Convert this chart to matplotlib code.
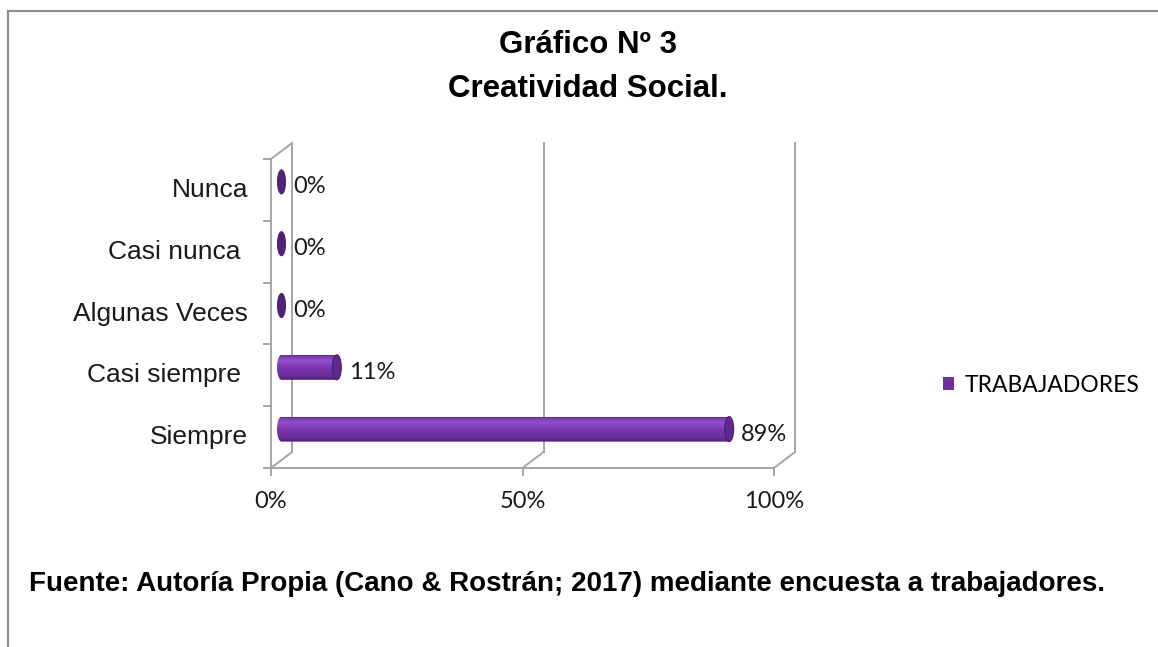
import numpy as np
import matplotlib
matplotlib.use('Agg')
import matplotlib.pyplot as plt
from matplotlib.patches import Ellipse, Polygon, Patch
from matplotlib.lines import Line2D
from matplotlib.colors import LinearSegmentedColormap

# datos del grafico
categorias = ['Siempre', 'Casi siempre ', 'Algunas Veces', 'Casi nunca ', 'Nunca']
trabajadores = [89, 11, 0, 0, 0]
etiquetas = ['89%', '11%', '0%', '0%', '0%']
xticks = [0, 50, 100]
xtick_labels = ['0%', '50%', '100%']
serie = 'TRABAJADORES'

titulo1 = 'Gráfico Nº 3'
titulo2 = 'Creatividad Social.'
fuente = 'Fuente: Autoría Propia (Cano & Rostrán; 2017) mediante encuesta a trabajadores.'

W, H = 1158, 647
fig = plt.figure(figsize=(W / 100, H / 100), dpi=100)

# plot area in pixels: front 0% at x=271, 100% at x=774, bottom at y=468, 61.8 px per category
px_x = 5.03
px_y = 61.8
x0_px, y0_px = 271, 468
left_px, right_px, top_px, bot_px = 258, 830, 130, 480
ax = fig.add_axes([left_px / W, 1 - bot_px / H, (right_px - left_px) / W, (bot_px - top_px) / H])
xlim = ((left_px - x0_px) / px_x, (right_px - x0_px) / px_x)
ylim = (-0.5 - (bot_px - y0_px) / px_y, -0.5 + (y0_px - top_px) / px_y)
ax.axis('off')

dx = 21 / px_x      # depth offset
dy = 16 / px_y
grid_c = '#a5a5a5'
glw = 1.4
n = len(categorias)

# walls and floor
ax.plot([0, 0], [-0.5, n - 0.5], color=grid_c, lw=glw, zorder=1)
ax.plot([0, dx], [n - 0.5, n - 0.5 + dy], color=grid_c, lw=glw, zorder=1)
ax.plot([xticks[0], xticks[-1]], [-0.5, -0.5], color=grid_c, lw=glw, zorder=1)
for t in xticks:
    ax.plot([t + dx, t + dx], [-0.5 + dy, n - 0.5 + dy], color=grid_c, lw=glw, zorder=1)
    ax.plot([t, t + dx], [-0.5, -0.5 + dy], color=grid_c, lw=glw, zorder=1)
    ax.plot([t, t], [-0.5, -0.5 - 7 / px_y], color=grid_c, lw=glw, zorder=1)
for b in np.arange(n + 1) - 0.5:
    ax.plot([-7 / px_x, 0], [b, b], color=grid_c, lw=glw, zorder=1)

# cylinder shading
cyl = LinearSegmentedColormap.from_list('cyl', [
    (0.0, '#4a1d6e'), (0.15, '#6a2c9c'), (0.5, '#7a36b0'),
    (0.78, '#9250c8'), (0.92, '#8040b8'), (1.0, '#62298f')])
grad = np.linspace(0, 1, 64).reshape(-1, 1)

bh = 25 / px_y
capw = 9 / px_x
ys = np.arange(n) + dy / 2
bars = ax.barh(ys, trabajadores, left=dx / 2, height=bh, color='#7030A0',
               label=serie, zorder=2)

for i, v in enumerate(trabajadores):
    yc = ys[i]
    xs0 = dx / 2
    if v > 0:
        xs1 = xs0 + v
        th = np.linspace(np.pi / 2, 3 * np.pi / 2, 40)
        verts = np.column_stack([xs0 + capw / 2 * np.cos(th), yc + bh / 2 * np.sin(th)])
        verts = np.vstack([verts, [[xs1, yc - bh / 2], [xs1, yc + bh / 2]]])
        clip = Polygon(verts, closed=True, transform=ax.transData)
        im = ax.imshow(grad, extent=[xs0 - capw / 2, xs1, yc - bh / 2, yc + bh / 2],
                       origin='lower', cmap=cyl, aspect='auto', zorder=3,
                       interpolation='bilinear')
        im.set_clip_path(clip)
        bars[i].set_visible(False)
        ax.add_patch(Ellipse((xs1, yc), capw, bh, facecolor='#5e2a8c',
                             edgecolor='#4a1e70', lw=0.8, zorder=4))
    else:
        ax.add_patch(Ellipse((xs0, yc), capw * 0.9, bh * 0.97, facecolor='#512278',
                             edgecolor='#431a66', lw=0.6, zorder=4))
    ax.text(xs0 + v + 12 / px_x, i + 0.05, etiquetas[i], ha='left', va='center',
            fontsize=17, family='Lato', color='#1a1a1a', zorder=5)

ax.set_xlim(*xlim)
ax.set_ylim(*ylim)

# category labels
for i, c in enumerate(categorias):
    ax.text(-23 / px_x, i, c, ha='right', va='center', fontsize=19,
            family='Liberation Sans', color='#1a1a1a')

# x tick labels
for t, lab in zip(xticks, xtick_labels):
    ax.text(t, -0.5 - 34 / px_y, lab, ha='center', va='center', fontsize=17,
            family='Lato', color='#1a1a1a')

# legend
fig.legend(handles=[Patch(facecolor='#7030A0')], labels=[serie],
           loc='center left', bbox_to_anchor=(943 / W, 1 - 385 / H),
           frameon=False, borderpad=0, borderaxespad=0, handlelength=0.5,
           handleheight=0.5, handletextpad=0.45, prop={'family': 'Lato', 'size': 16.5})

# titles and source
fig.text(588 / W, 1 - 53 / H, titulo1, ha='center', va='baseline', fontsize=22.5,
         fontweight='bold', family='Liberation Sans')
fig.text(588 / W, 1 - 97 / H, titulo2, ha='center', va='baseline', fontsize=22.5,
         fontweight='bold', family='Liberation Sans')
fig.text(29 / W, 1 - 591 / H, fuente, ha='left', va='baseline', fontsize=20,
         fontweight='bold', family='Liberation Sans')

# outer frame (top and left edges)
fig.add_artist(Line2D([8 / W, 1], [1 - 11 / H, 1 - 11 / H], color='#8c8c8c', lw=1.5,
                      transform=fig.transFigure))
fig.add_artist(Line2D([8 / W, 8 / W], [0, 1 - 11 / H], color='#8c8c8c', lw=1.5,
                      transform=fig.transFigure))

fig.savefig('out.png', dpi=100)
